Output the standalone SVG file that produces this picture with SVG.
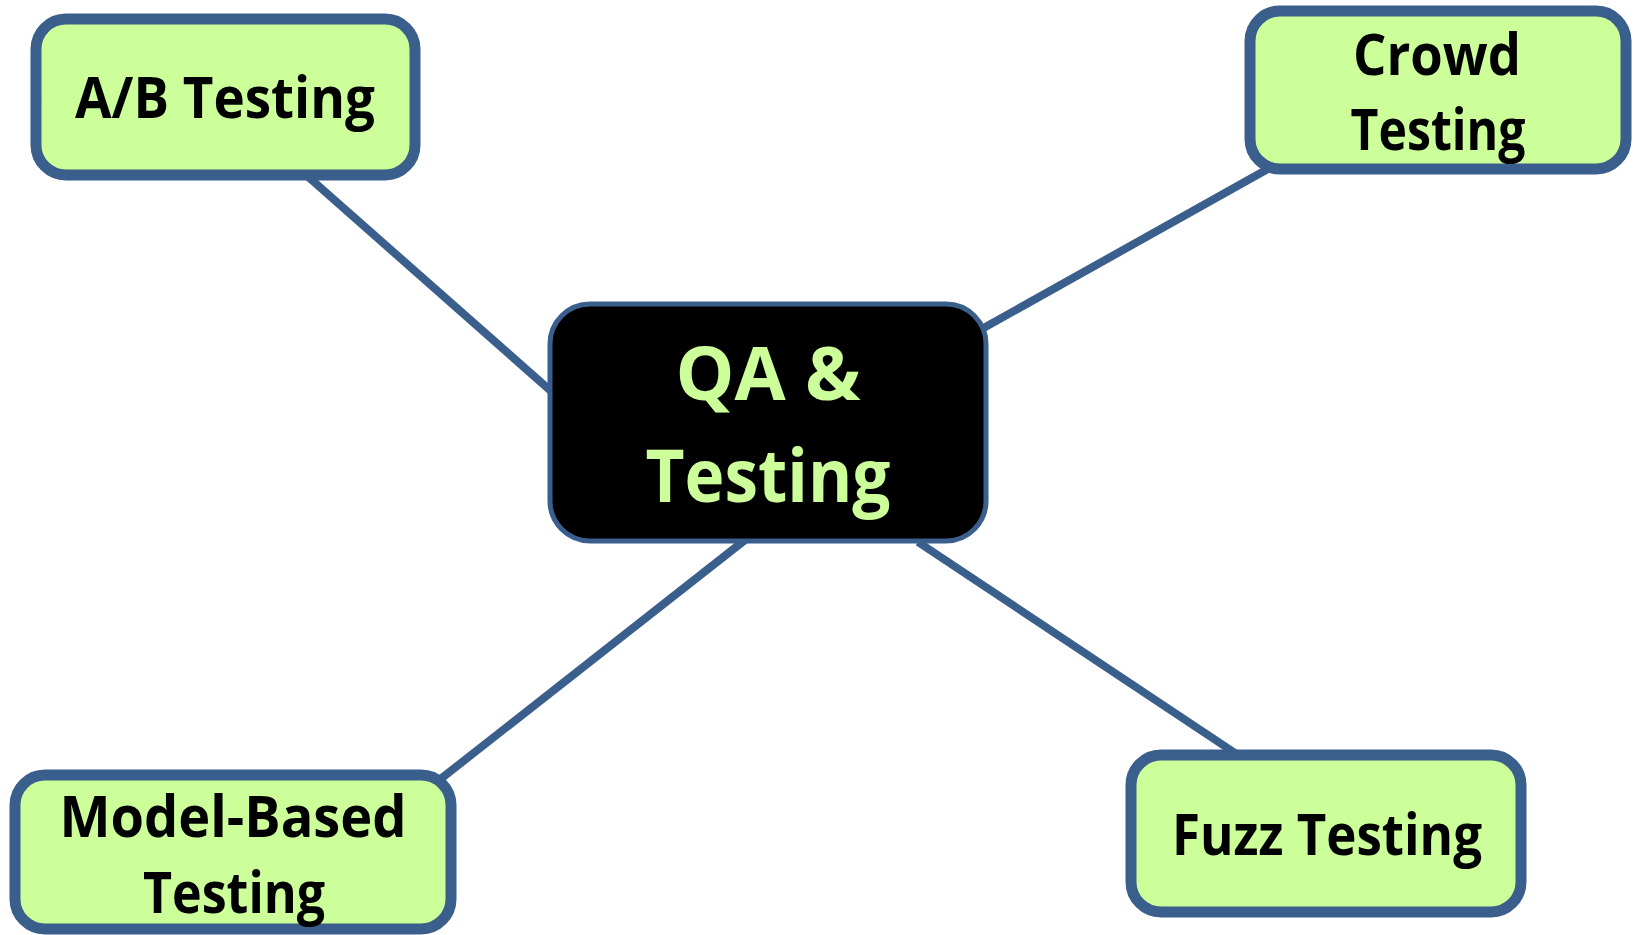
<svg xmlns="http://www.w3.org/2000/svg" width="1636" height="935" viewBox="0 0 1636 935">
<style>
.conn{stroke:#3B5F8C;stroke-width:8;fill:none}
.leaf rect{fill:#CCFF99;stroke:#3B5F8C;stroke-width:11}
.leaf text{font-family:"Open Sans","Liberation Sans",sans-serif;font-weight:bold;font-size:58px;fill:#000;text-anchor:middle}
#center rect{fill:#000;stroke:#3B5F8C;stroke-width:5}
#center text{font-family:"Open Sans","Liberation Sans",sans-serif;font-weight:bold;font-size:74px;fill:#CCFF99;text-anchor:middle}
</style>
<rect width="1636" height="935" fill="#fff"/>
<g id="connectors">
<line class="conn" x1="305" y1="174" x2="552" y2="392"/>
<line class="conn" x1="1275" y1="165" x2="980" y2="330"/>
<line class="conn" x1="438" y1="781" x2="745" y2="540"/>
<line class="conn" x1="1235" y1="753" x2="918" y2="542"/>
</g>
<g id="center">
<rect x="550" y="304" width="436" height="237" rx="40"/>
<text x="768" y="400" textLength="185" lengthAdjust="spacingAndGlyphs">QA &amp;</text>
<text x="768" y="502" textLength="245" lengthAdjust="spacingAndGlyphs">Testing</text>
</g>
<g id="ab" class="leaf">
<rect x="36" y="19" width="379" height="156" rx="30"/>
<text x="225" y="118" textLength="300" lengthAdjust="spacingAndGlyphs">A/B Testing</text>
</g>
<g id="crowd" class="leaf">
<rect x="1250" y="11" width="376" height="158" rx="30"/>
<text x="1437" y="75" textLength="168" lengthAdjust="spacingAndGlyphs">Crowd</text>
<text x="1438" y="150" textLength="175" lengthAdjust="spacingAndGlyphs">Testing</text>
</g>
<g id="model" class="leaf">
<rect x="15" y="775" width="436" height="154" rx="30"/>
<text x="233" y="837" textLength="347" lengthAdjust="spacingAndGlyphs">Model-Based</text>
<text x="234" y="913" textLength="182" lengthAdjust="spacingAndGlyphs">Testing</text>
</g>
<g id="fuzz" class="leaf">
<rect x="1131" y="755" width="390" height="157" rx="30"/>
<text x="1327" y="855" textLength="310" lengthAdjust="spacingAndGlyphs">Fuzz Testing</text>
</g>
</svg>
